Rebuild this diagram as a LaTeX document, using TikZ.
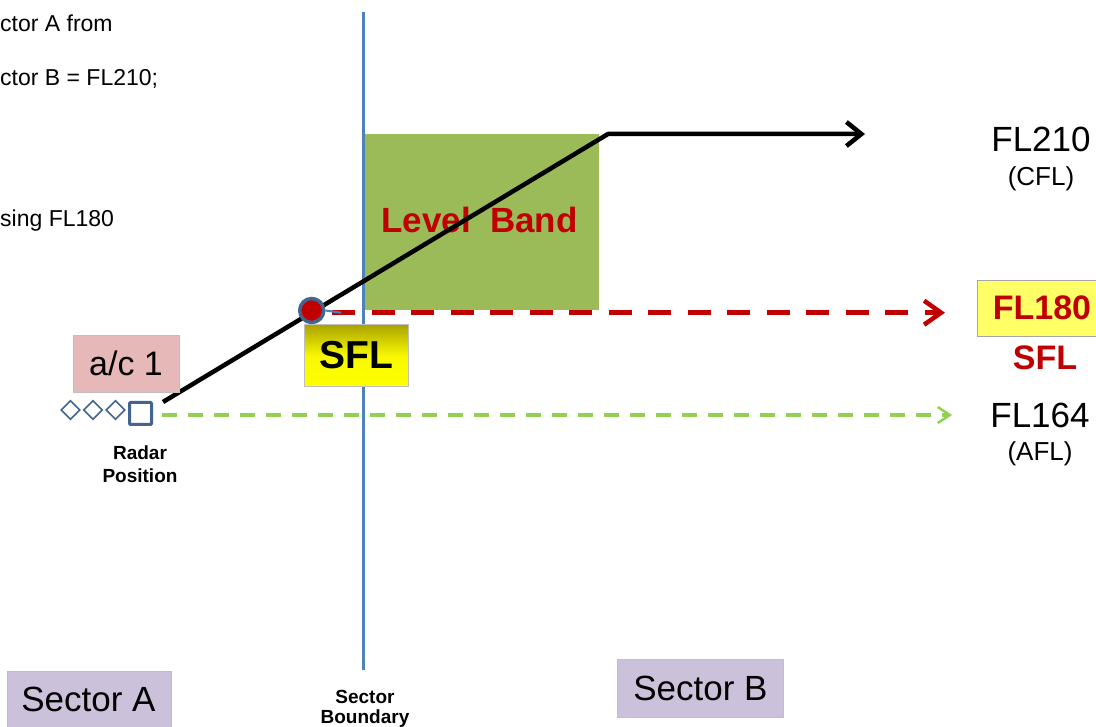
\documentclass[tikz,border=0pt]{standalone}
\usepackage{fontspec}
\setmainfont{Liberation Sans}
\usetikzlibrary{arrows.meta,shapes.geometric}
\definecolor{steel}{HTML}{4F81BD}
\definecolor{steeldark}{HTML}{41658F}
\definecolor{bandgreen}{HTML}{9BBB59}
\definecolor{darkred}{HTML}{C00000}
\definecolor{lightgreen}{HTML}{92D050}
\definecolor{pinkbox}{HTML}{E6B9B8}
\definecolor{lavender}{HTML}{CCC1DA}
\definecolor{olive}{HTML}{A9A200}
\definecolor{paleyellow}{HTML}{FFFF66}
\newcommand{\fsz}[1]{\fontsize{#1}{#1}\selectfont}
\tikzset{
  plain/.style={inner sep=0pt, align=center},
  labelbox/.style={plain, draw=black!25, line width=0.8pt},
  diam/.style={diamond, draw=steeldark, line width=1.6pt, inner sep=0pt, minimum size=19pt},
}
\begin{document}
\begin{tikzpicture}[x=1pt,y=-1pt]
\useasboundingbox (0,0) rectangle (1096,727);
\fill[white] (0,0) rectangle (1096,727);

% top-left clipped text
\node[plain, anchor=west] (t1) at (0,23) {\fsz{23}ctor A from};
\node[plain, anchor=west] (t2) at (0,79) {\fsz{23}ctor B = FL210;};
\node[plain, anchor=west] (t3) at (0,221) {\fsz{23}sing FL180};

% level band
\node[plain, fill=bandgreen, minimum width=234pt, minimum height=176pt, anchor=north west] (band) at (365,134) {};
\node[plain, text=darkred] (bandtxt) at (479.5,220) {\fsz{35}\bfseries Level\ \ Band};

% sector boundary
\coordinate (vtop) at (363,12);
\coordinate (vbot) at (363,670);
\draw[steel, line width=3pt] (vtop) -- (vbot);

% green AFL dashed line
\node[plain, draw=steeldark, line width=3pt, minimum size=22pt, rounded corners=1pt] (sq) at (140.5,413.5) {};
\coordinate (gstart) at (162,415);
\coordinate (gend) at (952,415);
\draw[lightgreen, line width=3.5pt, dash pattern=on 15pt off 11pt,
  -{Straight Barb[length=12pt,width=16pt,line width=2.5pt]}] (gstart) -- (gend);

% diamonds
\node[diam] (d1) at (70.5,410) {};
\node[diam] (d2) at (93,410) {};
\node[diam] (d3) at (115.5,410) {};

% red dashed SFL line
\coordinate (rstart) at (332,312.7);
\coordinate (rend) at (945,312.7);
\draw[darkred, line width=5.5pt, dash pattern=on 23pt off 16.5pt,
  -{Straight Barb[length=17pt,width=24pt,line width=4.5pt]}] (rstart) -- (rend);

% trajectory
\coordinate (ts) at (163,402);
\coordinate (tb) at (608,134);
\coordinate (te) at (865,134);
\draw[black, line width=4.5pt, line join=round,
  -{Straight Barb[length=15pt,width=24pt,line width=4.5pt]}] (ts) -- (tb) -- (te);

% aircraft dot
\node[circle, fill=darkred, draw=steeldark, line width=3.5pt, minimum size=24pt, inner sep=0pt] (dot) at (311.7,310.5) {};
\coordinate (tick) at (341,312.7);
\draw[steel, line width=2pt] (dot.east) -- (tick);

% SFL box
\node[labelbox, top color=olive, bottom color=yellow, middle color=yellow!92!olive,
  minimum width=104pt, minimum height=62pt, anchor=north west] (sflbox) at (304,324) {};
\node[plain] (sfltxt) at (sflbox.center) {\fsz{39}\bfseries SFL};

% a/c 1 box
\node[labelbox, fill=pinkbox, minimum width=106pt, minimum height=57pt] (ac) at (126,363.5) {\fsz{34}a/c 1};

\node[plain] (radar1) at (140,453) {\fsz{19}\bfseries Radar};
\node[plain] (radar2) at (140,476) {\fsz{19}\bfseries Position};

% right labels
\node[plain] (fl210) at (1041,139) {\fsz{35}FL210};
\node[plain] (cfl) at (1041,179) {\fsz{26}(CFL)};
\node[labelbox, draw=black!35, fill=paleyellow, minimum width=125pt, minimum height=56pt, anchor=north west] (fl180box) at (977,280) {};
\node[plain, text=darkred] (fl180) at (1042,308) {\fsz{34}\bfseries FL180};
\node[plain, text=darkred] (sflr) at (1045,358) {\fsz{34}\bfseries SFL};
\node[plain] (fl164) at (1040,415) {\fsz{35}FL164};
\node[plain] (afl) at (1040,454) {\fsz{26}(AFL)};

% sectors
\node[labelbox, fill=lavender, minimum width=164pt, minimum height=70pt, anchor=north west] (secA) at (7,671) {};
\node[plain] (secAtxt) at (88.5,699) {\fsz{35}Sector A};
\node[labelbox, fill=lavender, minimum width=166pt, minimum height=58pt, anchor=north west] (secB) at (617,659) {};
\node[plain] (secBtxt) at (secB.center) {\fsz{35}Sector B};
\node[plain] (sb1) at (365,697) {\fsz{19}\bfseries Sector};
\node[plain] (sb2) at (365,719) {\fsz{19}\bfseries Boundary};
\end{tikzpicture}
\end{document}
